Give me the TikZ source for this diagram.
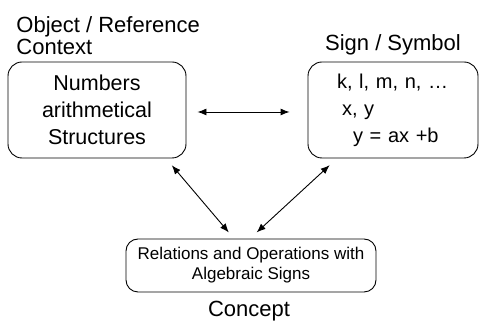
\documentclass[tikz,border=0pt]{standalone}
\usepackage{fontspec}
\setmainfont{Liberation Sans}
\usetikzlibrary{positioning,arrows.meta}

\begin{document}
\begin{tikzpicture}[x=1pt, y=1pt, line width=0.9pt,
        box/.style={draw, rounded corners=14pt, inner sep=0pt, align=center},
        title/.style={inner sep=0pt, font=\fontsize{22}{21.5}\selectfont},
        link/.style={{Latex[length=9pt,width=7pt]}-{Latex[length=9pt,width=7pt]}}]
        \useasboundingbox (0,0) rectangle (480,321);
        \node (object) [box, minimum width=178pt, minimum height=96pt, font=\fontsize{21.5}{27}\selectfont] at (97,211) {Numbers\\arithmetical\\Structures};
        \node (sign) [box, minimum width=170pt, minimum height=96pt, text width=112pt, align=left, font=\fontsize{20}{27}\selectfont] at (393,211) {k, l, m, n, …\\\hspace*{5pt}x, y\\\hspace*{16pt}y = ax +b};
        \node (concept) [box, rounded corners=12pt, minimum width=250pt, minimum height=53pt, font=\fontsize{17}{20}\selectfont] at (251,55.5) {Relations and Operations with\\Algebraic Signs};
        \node (reference) [title, align=left, anchor=north west] at (16,304.5) {Object / Reference\\Context};
        \node (symbol) [title, above=6.4pt of sign] {Sign / Symbol};
        \node (idea) [title, anchor=base] at (249,4.8) {Concept};

        \draw[link, shorten <=11pt, shorten >=18pt] ([yshift=-2pt]object.east) -- ([yshift=-2pt]sign.west);
        \draw[link, shorten <=9pt, shorten >=8pt] ([xshift=69pt]object.south) -- ([xshift=-17pt]concept.north);
        \draw[link, shorten <=10pt, shorten >=9pt] ([xshift=-56pt]sign.south) -- ([xshift=-1pt]concept.north);
    \end{tikzpicture}
\end{document}
